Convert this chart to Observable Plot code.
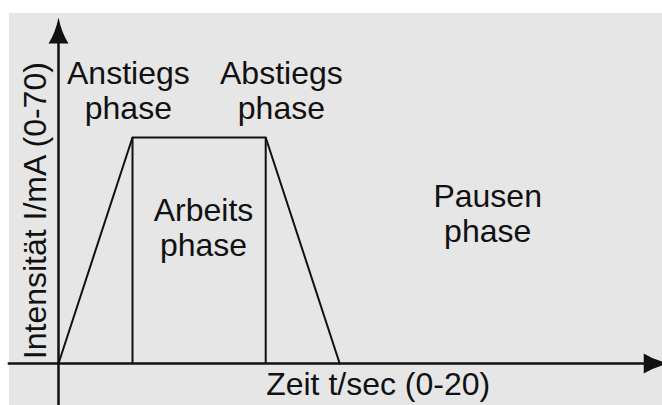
<!DOCTYPE html>
<html>
<head>
<meta charset="utf-8">
<script src="https://cdn.jsdelivr.net/npm/d3@7"></script>
<script src="https://cdn.jsdelivr.net/npm/@observablehq/plot@0.6"></script>
<style>
  html, body { margin: 0; padding: 0; background: #ffffff; }
  #wrap { padding: 13px 0 0 9px; width: 653px; height: 392px; }
</style>
</head>
<body>
<div id="wrap"></div>
<script>
// Stimulation profile (schematic): time in seconds, intensity in mA
const timeSec = [0, 2.5, 7, 9.5];
const intensity = [0, 46, 46, 0];

// Phase boundaries (vertical lines)
const boundaryTimes = [2.5, 7];
const boundaryLevel = 46;

// Phase labels and their positions in data coordinates
const phaseLabels = ["Anstiegs\nphase", "Abstiegs\nphase", "Arbeits\nphase", "Pausen\nphase"];
const phaseLabelT = [2.36, 7.53, 4.9, 14.5];
const phaseLabelI = [55.6, 55.6, 27.7, 30.5];

// Axis titles
const xTitle = "Zeit t/sec (0-20)";
const yTitle = "Intensität I/mA (0-70)";
const xTitlePos = [10.8, -4.4];
const yTitlePos = [-0.78, 31.1];

// Axis extents (domain 0-20 s and 0-70 mA, drawn as arrows)
const xAxisRange = [-1.7, 20.65];
const yAxisRange = [-8.6, 70.4];

const profile = timeSec.map((t, i) => ({t, v: intensity[i]}));
const labels = phaseLabels.map((s, i) => ({s, t: phaseLabelT[i], v: phaseLabelI[i]}));

// Filled arrowheads with tip at the origin
const headUp = {
  draw(ctx) {
    ctx.moveTo(0, 0);
    ctx.quadraticCurveTo(-3, 15, -10, 26);
    ctx.lineTo(10, 26);
    ctx.quadraticCurveTo(3, 15, 0, 0);
    ctx.closePath();
  }
};
const headRight = {
  draw(ctx) {
    ctx.moveTo(0, 0);
    ctx.quadraticCurveTo(-15, -3, -26, -10);
    ctx.lineTo(-26, 10);
    ctx.quadraticCurveTo(-15, 3, 0, 0);
    ctx.closePath();
  }
};

const font = "'Liberation Sans', Arial, sans-serif";

const chart = Plot.plot({
  width: 653,
  height: 392,
  marginLeft: 49,
  marginRight: 12,
  marginTop: 6,
  marginBottom: 42,
  style: {background: "#e6e6e6", fontFamily: font, overflow: "visible"},
  x: {domain: [0, 20], axis: null},
  y: {domain: [0, 70], axis: null},
  marks: [
    // axes
    Plot.ruleY([0], {x1: xAxisRange[0], x2: xAxisRange[1] - 0.6, stroke: "#111", strokeWidth: 2.5}),
    Plot.ruleX([0], {y1: yAxisRange[0], y2: yAxisRange[1] - 4, stroke: "#111", strokeWidth: 2.5}),
    Plot.dot([{t: xAxisRange[1], v: 0}], {x: "t", y: "v", symbol: headRight, fill: "#111", stroke: null}),
    Plot.dot([{t: 0, v: yAxisRange[1]}], {x: "t", y: "v", symbol: headUp, fill: "#111", stroke: null}),
    // profile
    Plot.line(profile, {x: "t", y: "v", stroke: "#111", strokeWidth: 2}),
    Plot.ruleX(boundaryTimes, {y1: 0, y2: boundaryLevel, stroke: "#111", strokeWidth: 2}),
    // labels
    Plot.text(labels, {x: "t", y: "v", text: "s", fontSize: 32, lineHeight: 1.1, fill: "#111", lineAnchor: "middle", textAnchor: "middle"}),
    Plot.text([xTitle], {x: xTitlePos[0], y: xTitlePos[1], fontSize: 32, fill: "#111", lineAnchor: "middle", textAnchor: "middle"}),
    Plot.text([yTitle], {x: yTitlePos[0], y: yTitlePos[1], fontSize: 32, fill: "#111", rotate: -90, lineAnchor: "middle", textAnchor: "middle"})
  ]
});
document.getElementById("wrap").appendChild(chart);
</script>
</body>
</html>
